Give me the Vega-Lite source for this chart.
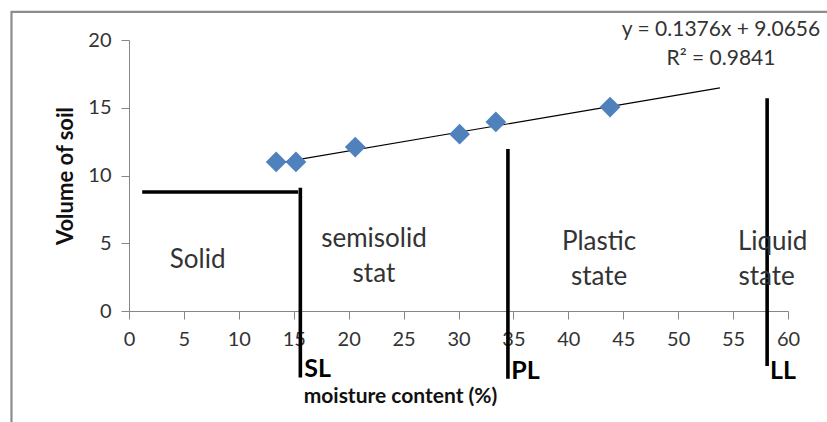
{
  "$schema": "https://vega.github.io/schema/vega-lite/v6.json",
  "width": 659,
  "height": 271,
  "autosize": {"type": "none"},
  "padding": {"left": 129, "top": 40, "right": 39, "bottom": 111},
  "background": "white",
  "config": {"view": {"stroke": null}, "font": "Lato"},
  "datasets": {
    "frame": [{"x": -10.7, "x2": 75, "y": 22.08, "y2": -12}],
    "lines": [
      {"x": 1.2, "y": 8.78, "x2": 15.4, "y2": 8.78},
      {"x": 15.6, "y": 9.1, "x2": 15.6, "y2": -4.9},
      {"x": 34.5, "y": 11.96, "x2": 34.5, "y2": -5.0},
      {"x": 58.1, "y": 15.7, "x2": 58.1, "y2": -4.06}
    ],
    "trend": [{"x": 13.5, "y": 10.92}, {"x": 53.8, "y": 16.47}],
    "points": [
      {"x": 13.4, "y": 11.0},
      {"x": 15.2, "y": 11.0},
      {"x": 20.6, "y": 12.1},
      {"x": 30.1, "y": 13.05},
      {"x": 33.4, "y": 13.95},
      {"x": 43.8, "y": 15.05}
    ],
    "regions": [
      {"x": 6.25, "y": 3.15, "label": "Solid"},
      {"x": 22.3, "y": 4.75, "label": "semisolid"},
      {"x": 22.3, "y": 2.16, "label": "stat"},
      {"x": 42.8, "y": 4.5, "label": "Plastic"},
      {"x": 42.8, "y": 1.92, "label": "state"},
      {"x": 58.6, "y": 4.5, "label": "Liquid"},
      {"x": 58.05, "y": 1.92, "label": "state"}
    ],
    "limits": [
      {"x": 15.96, "y": -4.85, "label": "SL"},
      {"x": 34.8, "y": -5.0, "label": "PL"},
      {"x": 58.36, "y": -5.0, "label": "LL"}
    ],
    "equation": [
      {"x": 53.9, "y": 20.29, "label": "y = 0.1376x + 9.0656"},
      {"x": 53.9, "y": 18.15, "label": "R² = 0.9841"}
    ]
  },
  "layer": [
    {
      "data": {"name": "frame"},
      "mark": {"type": "rect", "fillOpacity": 0, "stroke": "#8c8c8c", "strokeWidth": 2.2},
      "encoding": {
        "x": {"field": "x", "type": "quantitative", "scale": {"domain": [0, 60], "nice": false, "zero": false}},
        "x2": {"field": "x2"},
        "y": {"field": "y", "type": "quantitative", "scale": {"domain": [0, 20], "nice": false, "zero": false}},
        "y2": {"field": "y2"}
      }
    },
    {
      "data": {"name": "lines"},
      "mark": {"type": "rule", "color": "black", "strokeWidth": 3.6},
      "encoding": {
        "x": {"field": "x", "type": "quantitative"},
        "x2": {"field": "x2"},
        "y": {"field": "y", "type": "quantitative"},
        "y2": {"field": "y2"}
      }
    },
    {
      "data": {"name": "trend"},
      "mark": {"type": "line", "color": "black", "strokeWidth": 1.2},
      "encoding": {
        "x": {"field": "x", "type": "quantitative"},
        "y": {"field": "y", "type": "quantitative"}
      }
    },
    {
      "data": {"name": "points"},
      "mark": {"type": "point", "shape": "diamond", "filled": true, "color": "#4F81BD", "size": 430, "opacity": 1},
      "encoding": {
        "x": {
          "field": "x", "type": "quantitative",
          "axis": {
            "values": [0, 5, 10, 15, 20, 25, 30, 35, 40, 45, 50, 55, 60],
            "grid": false,
            "domainColor": "#868686",
            "tickColor": "#868686",
            "tickSize": 8,
            "labelFontSize": 20,
            "labelColor": "#333333",
            "labelPadding": 10,
            "labelFlush": false,
            "labelOverlap": false,
            "title": "moisture content (%)",
            "titleFontSize": 21,
            "titleFontWeight": "bold",
            "titleColor": "#111111",
            "titleX": 271,
            "titleY": 91,
            "titleAlign": "center",
            "titleBaseline": "alphabetic"
          }
        },
        "y": {
          "field": "y", "type": "quantitative",
          "axis": {
            "values": [0, 5, 10, 15, 20],
            "grid": false,
            "domainColor": "#868686",
            "tickColor": "#868686",
            "tickSize": 8,
            "labelFontSize": 20,
            "labelColor": "#333333",
            "labelPadding": 10,
            "labelFlush": false,
            "labelOverlap": false,
            "title": "Volume of soil",
            "titleFontSize": 22,
            "titleFontWeight": "bold",
            "titleColor": "#111111",
            "titlePadding": 10
          }
        }
      }
    },
    {
      "data": {"name": "regions"},
      "mark": {"type": "text", "fontSize": 26, "color": "#333333", "align": "center", "baseline": "alphabetic"},
      "encoding": {
        "x": {"field": "x", "type": "quantitative"},
        "y": {"field": "y", "type": "quantitative"},
        "text": {"field": "label"}
      }
    },
    {
      "data": {"name": "limits"},
      "mark": {"type": "text", "fontSize": 25, "fontWeight": "bold", "color": "black", "align": "left", "baseline": "alphabetic"},
      "encoding": {
        "x": {"field": "x", "type": "quantitative"},
        "y": {"field": "y", "type": "quantitative"},
        "text": {"field": "label"}
      }
    },
    {
      "data": {"name": "equation"},
      "mark": {"type": "text", "fontSize": 21, "color": "#333333", "align": "center", "baseline": "alphabetic"},
      "encoding": {
        "x": {"field": "x", "type": "quantitative"},
        "y": {"field": "y", "type": "quantitative"},
        "text": {"field": "label"}
      }
    }
  ]
}
